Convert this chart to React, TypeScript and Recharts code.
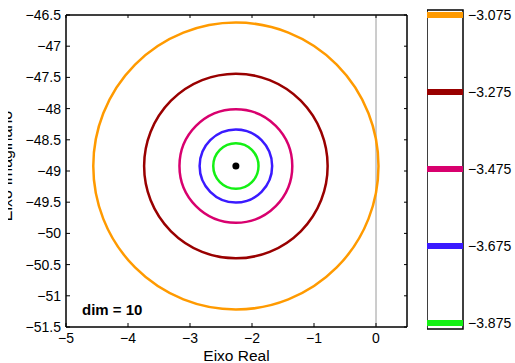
import React from 'react';
import {
  ScatterChart,
  Scatter,
  XAxis,
  YAxis,
  ReferenceLine,
  ReferenceArea,
} from 'recharts';

// level values shown on the colour bar (outer ring first)
const LEVELS = [-3.075, -3.275, -3.475, -3.675, -3.875];
const LEVEL_COLORS = ['#ff9a00', '#990000', '#d8006e', '#3a1aff', '#14f014'];
// ring radii (data units)
const RADII = [2.3, 1.48, 0.91, 0.585, 0.365];
const CENTER_X = -2.26;
const CENTER_Y = -48.92;

const X_TICKS = [-5, -4, -3, -2, -1, 0];
const Y_TICKS = [-51.5, -51, -50.5, -50, -49.5, -49, -48.5, -48, -47.5, -47, -46.5];
const X_DOMAIN = [-5, 0.5];
const Y_DOMAIN = [-51.5, -46.5];
const CB_DOMAIN = [-3.8906, -3.062];

const FONT = '"Liberation Sans", Arial, sans-serif';

// layout of the main chart
const W = 515;
const H = 363;
const M = { top: 14, right: 107, bottom: 0, left: 0 };
const Y_W = 66;
const X_H = 36;
const PLOT_W = W - M.left - M.right - Y_W - 1;
const PLOT_H = H - M.top - M.bottom - X_H - 1;
const KX = PLOT_W / (X_DOMAIN[1] - X_DOMAIN[0]);
const KY = PLOT_H / (Y_DOMAIN[1] - Y_DOMAIN[0]);

const minus = (v: number, d = 0) => {
  const s = d ? v.toFixed(d) : String(v);
  return s.replace('-', '\u2212');
};

const tickStyle = { fill: '#000', fontSize: 14, fontFamily: FONT };

const ring = (color: string) => (props: any) => (
  <ellipse
    cx={props.cx}
    cy={props.cy}
    rx={props.payload.r * KX}
    ry={props.payload.r * KY}
    fill="none"
    stroke={color}
    strokeWidth={2.5}
  />
);

const nothing = () => <g />;

const App = () => {
  return (
    <div style={{ position: 'absolute', left: 0, top: 0, width: W, height: H, overflow: 'hidden', background: '#fff' }}>
      <div style={{ position: 'absolute', left: 0, top: 0 }}>
        <ScatterChart width={W} height={H} margin={M}>
          <defs>
            <clipPath id="ylab-clip">
              <rect x={8} y={0} width={20} height={H} />
            </clipPath>
          </defs>
          <XAxis
            type="number"
            dataKey="x"
            domain={X_DOMAIN}
            ticks={X_TICKS}
            allowDataOverflow
            height={X_H}
            stroke="#000"
            tick={tickStyle}
            tickSize={-4}
            tickMargin={10}
            tickFormatter={(v) => minus(v)}
            label={{ value: 'Eixo Real', position: 'insideBottom', offset: 2, fill: '#000', fontSize: 15.5, fontFamily: FONT }}
          />
          <XAxis
            xAxisId="top"
            orientation="top"
            type="number"
            dataKey="x"
            domain={X_DOMAIN}
            ticks={X_TICKS}
            allowDataOverflow
            height={1}
            stroke="#000"
            tickSize={-3}
            tickFormatter={() => ''}
          />
          <YAxis
            type="number"
            dataKey="y"
            domain={Y_DOMAIN}
            ticks={Y_TICKS}
            allowDataOverflow
            width={Y_W}
            stroke="#000"
            tick={tickStyle}
            tickSize={-4}
            tickMargin={9}
            tickFormatter={(v) => minus(v)}
            label={() => (
              <g clipPath="url(#ylab-clip)">
                <text
                  x={12}
                  y={166}
                  transform="rotate(-90 12 166)"
                  textAnchor="middle"
                  fontSize={16}
                  fontFamily={FONT}
                  fill="#000"
                >
                  Eixo Imaginário
                </text>
              </g>
            )}
          />
          <YAxis
            yAxisId="right"
            orientation="right"
            type="number"
            dataKey="y"
            domain={Y_DOMAIN}
            ticks={Y_TICKS}
            allowDataOverflow
            width={1}
            stroke="#000"
            tickSize={-3}
            tickFormatter={() => ''}
          />
          <ReferenceLine x={0} stroke="#9a9a9a" strokeWidth={1} />
          <ReferenceArea
            x1={X_DOMAIN[0]}
            x2={X_DOMAIN[1]}
            y1={Y_DOMAIN[0]}
            y2={Y_DOMAIN[1]}
            fill="none"
            fillOpacity={0}
            stroke="#000"
            strokeWidth={1}
            strokeOpacity={1}
          />
          {RADII.map((r, i) => (
            <Scatter
              key={i}
              data={[{ x: CENTER_X, y: CENTER_Y, r }]}
              shape={ring(LEVEL_COLORS[i])}
              isAnimationActive={false}
            />
          ))}
          <Scatter
            data={[{ x: CENTER_X, y: CENTER_Y }]}
            shape={(p: any) => <circle cx={p.cx} cy={p.cy} r={3.5} fill="#000" />}
            isAnimationActive={false}
          />
          {/* keeps the top/right box axes bound to data */}
          <Scatter
            xAxisId="top"
            yAxisId="right"
            data={[{ x: CENTER_X, y: CENTER_Y }]}
            shape={nothing}
            isAnimationActive={false}
          />
        </ScatterChart>
      </div>
      <div
        style={{
          position: 'absolute',
          left: 82,
          top: 300,
          fontFamily: FONT,
          fontWeight: 'bold',
          fontSize: 15,
          lineHeight: '20px',
        }}
      >
        dim = 10
      </div>
      {/* colour bar */}
      <div style={{ position: 'absolute', left: 427, top: 0 }}>
        <ScatterChart width={120} height={H} margin={{ top: 10, right: 0, bottom: 34, left: 0 }}>
          <XAxis type="number" dataKey="x" domain={[0, 1]} hide />
          <YAxis
            orientation="right"
            type="number"
            dataKey="y"
            domain={CB_DOMAIN}
            ticks={LEVELS}
            allowDataOverflow
            width={84}
            axisLine={false}
            tickLine={false}
            tickSize={0}
            tickMargin={5}
            tick={tickStyle}
            tickFormatter={(v) => minus(v, 3)}
          />
          <Scatter
            data={LEVELS.map((y) => ({ x: 0.5, y }))}
            shape={nothing}
            isAnimationActive={false}
          />
          {LEVELS.map((v, i) => (
            <ReferenceLine key={v} y={v} stroke={LEVEL_COLORS[i]} strokeWidth={6} />
          ))}
          <ReferenceArea
            x1={0}
            x2={1}
            y1={CB_DOMAIN[0]}
            y2={CB_DOMAIN[1]}
            fill="none"
            fillOpacity={0}
            stroke="#000"
            strokeWidth={1.5}
            strokeOpacity={1}
          />
        </ScatterChart>
      </div>
    </div>
  );
};

export default App;
